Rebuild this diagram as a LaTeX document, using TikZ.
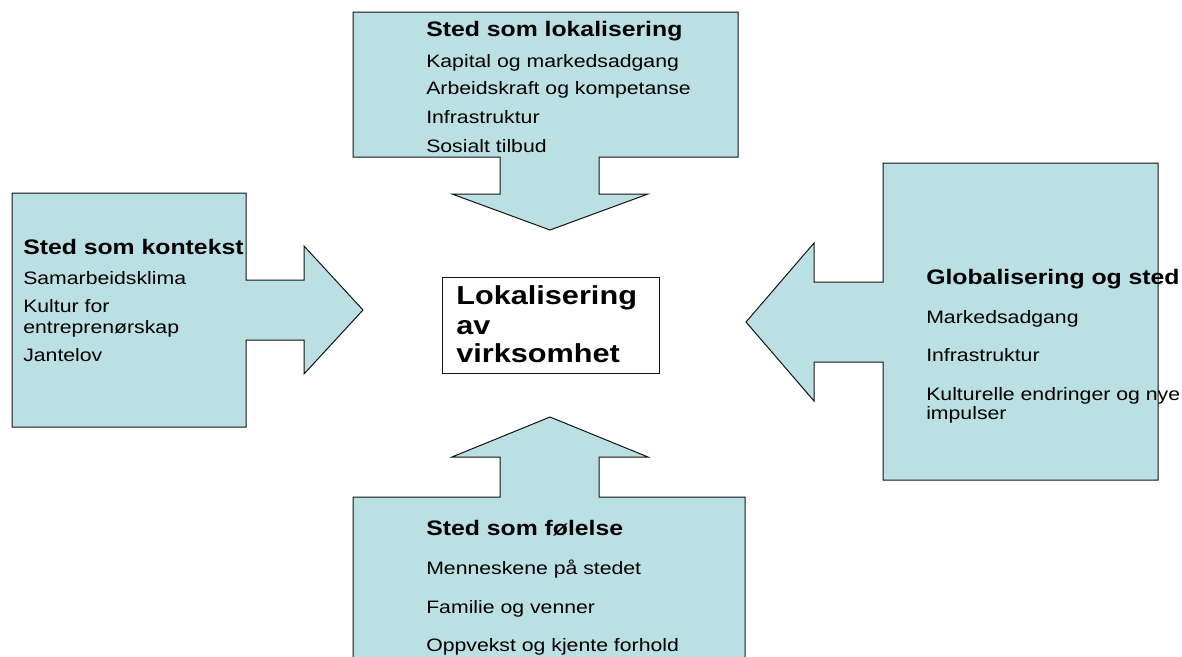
\documentclass[tikz,border=0pt]{standalone}
\usepackage{fontspec}
\setmainfont{Liberation Sans}[FakeStretch=1.18]
\usepackage{xcolor}
\usepackage{tikz}
\usetikzlibrary{positioning}

\definecolor{calloutblue}{RGB}{187,224,227}
\tikzset{
  callout/.style={draw={rgb,255:red,20;green,20;blue,20}, fill=calloutblue, line width=0.75pt, line join=miter},
  centerbox/.style={draw={rgb,255:red,20;green,20;blue,20}, fill=white, line width=0.75pt},
  head/.style={anchor=base west, inner sep=0pt, font=\bfseries\fontsize{15.75}{18}\selectfont},
  item/.style={anchor=base west, inner sep=0pt, font=\fontsize{13.5}{16}\selectfont},
  bighead/.style={anchor=base west, inner sep=0pt, font=\bfseries\fontsize{19.5}{22}\selectfont}
}

\begin{document}
\begin{tikzpicture}[x=0.75pt,y=0.75pt,yscale=-1,xscale=1]
\useasboundingbox (0,0) rectangle (1182,657);

%Shape: Down Arrow Callout [top]
\draw [callout] (353,12) -- (738,12) -- (738,157) -- (599,157) -- (599,194) -- (648,194) -- (550,230) -- (452,194) -- (500,194) -- (500,157) -- (353,157) -- cycle ;
%Shape: Right Arrow Callout [left]
\draw [callout] (12,193) -- (246,193) -- (246,280) -- (304,280) -- (304,246) -- (363,310) -- (304,374) -- (304,340) -- (246,340) -- (246,427) -- (12,427) -- cycle ;
%Shape: Left Arrow Callout [right]
\draw [callout] (1158,163) -- (1158,480) -- (883,480) -- (883,362) -- (814,362) -- (814,401) -- (746,322) -- (814,243) -- (814,282) -- (883,282) -- (883,163) -- cycle ;
%Shape: Up Arrow Callout [bottom]
\draw [callout] (353,700) -- (353,497) -- (500,497) -- (500,457) -- (452,457) -- (550,417) -- (648,457) -- (599,457) -- (599,497) -- (745,497) -- (745,700) -- cycle ;
%Shape: Rectangle [centre]
\draw [centerbox] (442,277) -- (659,277) -- (659,373) -- (442,373) -- cycle ;

% Text Node
\node [head] (lokTitle) at (426,36) {Sted som lokalisering};
\node [item] (lokA) at (426,67) {Kapital og markedsadgang};
\node [item] (lokB) at (426,94) {Arbeidskraft og kompetanse};
\node [item] (lokC) at (426,123) {Infrastruktur};
\node [item] (lokD) at (426,152) {Sosialt tilbud};

% Text Node
\node [head] (ktxTitle) at (23,254) {Sted som kontekst};
\node [item] (ktxA) at (23,284) {Samarbeidsklima};
\node [item] (ktxB) at (23,312) {Kultur for};
\node [item] (ktxB2) at (23,333) {entreprenørskap};
\node [item] (ktxC) at (23,361) {Jantelov};

% Text Node
\node [head] (glbTitle) at (926,284) {Globalisering og sted};
\node [item] (glbA) at (926,323) {Markedsadgang};
\node [item] (glbB) at (926,361) {Infrastruktur};
\node [item] (glbC) at (926,400) {Kulturelle endringer og nye};
\node [item] (glbC2) at (926,419) {impulser};

% Text Node
\node [head] (flsTitle) at (426,535) {Sted som følelse};
\node [item] (flsA) at (426,574) {Menneskene på stedet};
\node [item] (flsB) at (426,613) {Familie og venner};
\node [item] (flsC) at (426,651) {Oppvekst og kjente forhold};

% Text Node
\node [bighead] (midA) at (456,304) {Lokalisering};
\node [bighead] (midB) at (456,334) {av};
\node [bighead] (midC) at (456,362) {virksomhet};

\end{tikzpicture}
\end{document}
